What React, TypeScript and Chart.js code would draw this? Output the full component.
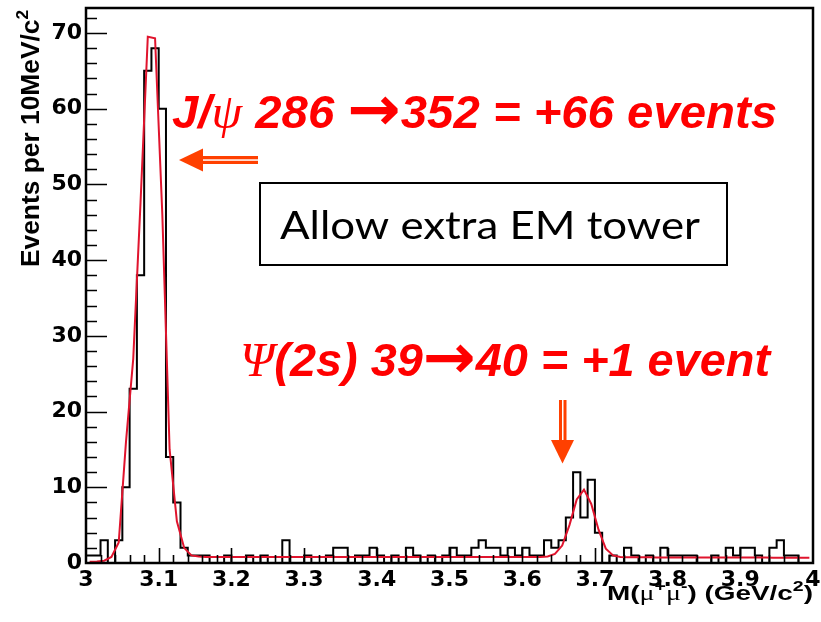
import React, { useEffect, useRef } from "react";
import { Chart, registerables } from "chart.js";

Chart.register(...registerables);

// ---- data ----
const MASS_MIN = 3.0;
const MASS_MAX = 4.0;
const BIN_WIDTH = 0.01;
const Y_MAX = 73.3;

// events per 10 MeV/c^2 bin, bins 3.00-3.01 ... 3.99-4.00
const eventCounts = [
  1, 1, 3, 0, 3, 10, 23, 38, 65, 68,
  60, 14, 8, 2, 1, 1, 1, 0, 0, 1,
  0, 0, 1, 0, 1, 0, 0, 3, 0, 0,
  1, 0, 0, 1, 2, 2, 0, 1, 1, 2,
  1, 0, 1, 0, 2, 1, 0, 1, 0, 1,
  2, 1, 1, 2, 3, 2, 2, 1, 2, 1,
  2, 1, 1, 3, 2, 3, 6, 12, 6, 11,
  4, 0, 1, 0, 2, 1, 0, 1, 0, 2,
  1, 1, 1, 1, 0, 0, 1, 0, 2, 1,
  2, 2, 1, 0, 2, 3, 1, 1, 0, 0,
];

// fit curve read at the bin centres
const fitCurve = [
  0.15, 0.2, 0.3, 0.8, 2.7, 16, 27, 47.6, 69.5, 69.3,
  46, 15, 5.5, 2, 1.0, 0.85, 0.8, 0.8, 0.8, 0.8,
  0.8, 0.8, 0.8, 0.8, 0.8, 0.8, 0.8, 0.8, 0.8, 0.8,
  0.8, 0.8, 0.8, 0.8, 0.8, 0.8, 0.8, 0.8, 0.8, 0.8,
  0.79, 0.79, 0.79, 0.79, 0.79, 0.79, 0.79, 0.79, 0.79, 0.79,
  0.78, 0.78, 0.78, 0.78, 0.78, 0.78, 0.78, 0.78, 0.78, 0.78,
  0.78, 0.78, 0.8, 0.85, 1.2, 2.3, 5.0, 8.4, 9.7, 7.8,
  4.4, 1.9, 1.0, 0.8, 0.76, 0.75, 0.75, 0.75, 0.74, 0.74,
  0.74, 0.73, 0.73, 0.73, 0.73, 0.72, 0.72, 0.72, 0.72, 0.72,
  0.71, 0.71, 0.71, 0.71, 0.7, 0.7, 0.7, 0.7, 0.7, 0.7,
];

const yTitle = "Events per 10MeV/c";
const xTitle = ["M(", "μ", "+", "μ", "-", ") (GeV/c", "2", ")"];
const jpsiNote = ["J/", "ψ", " 286 ", "→", "352 = +66 events"];
const psiNote = ["Ψ", "(2s) 39", "→", "40 = +1 event"];
const boxNote = "Allow extra EM tower";

const RED_TEXT = "#ff0000";
const ARROW = "#ff4000";
const FIT_RED = "#e0142d";

type Seg = { text: string; font: string; dy?: number };

function drawRich(ctx: CanvasRenderingContext2D, segs: Seg[], x: number, y: number, target: number, color: string) {
  const widths = segs.map((s) => {
    ctx.font = s.font;
    return ctx.measureText(s.text).width;
  });
  const total = widths.reduce((a, b) => a + b, 0);
  const sx = target / total;
  ctx.save();
  ctx.translate(x, y);
  ctx.scale(sx, 1);
  ctx.fillStyle = color;
  ctx.textBaseline = "alphabetic";
  ctx.textAlign = "left";
  let cx = 0;
  segs.forEach((s, i) => {
    ctx.font = s.font;
    ctx.fillText(s.text, cx, s.dy || 0);
    cx += widths[i];
  });
  ctx.restore();
}

function fmtMass(v: number) {
  const r = Math.round(v * 10) / 10;
  return Number.isInteger(r) ? String(r) : r.toFixed(1);
}

const decorations = {
  id: "decorations",
  afterDraw(chart: any) {
    const { ctx, chartArea: a, scales } = chart;
    const xs = scales.x;
    const ys = scales.y;
    ctx.save();
    // ticks inside the frame
    ctx.strokeStyle = "#000";
    ctx.lineWidth = 1.6;
    ctx.beginPath();
    for (let k = 1; 2 * k <= Y_MAX; k++) {
      const v = 2 * k;
      const py = Math.round(ys.getPixelForValue(v)) + 0.5;
      const len = v % 10 === 0 ? 21 : 11;
      ctx.moveTo(a.left, py);
      ctx.lineTo(a.left + len, py);
    }
    for (let k = 1; k < 50; k++) {
      const px = Math.round(xs.getPixelForValue(MASS_MIN + k * 0.02)) + 0.5;
      const len = k % 5 === 0 ? 15 : 8;
      ctx.moveTo(px, a.bottom);
      ctx.lineTo(px, a.bottom - len);
    }
    ctx.stroke();
    // frame
    ctx.lineWidth = 2.5;
    ctx.strokeRect(a.left, a.top, a.right - a.left, a.bottom - a.top);

    // y title (rotated)
    ctx.save();
    ctx.translate(39, 267);
    ctx.rotate(-Math.PI / 2);
    drawRich(
      ctx,
      [
        { text: yTitle, font: "bold 26px 'Liberation Sans'" },
        { text: "2", font: "bold 17px 'Liberation Sans'", dy: -11 },
      ],
      0,
      0,
      257,
      "#000"
    );
    ctx.restore();

    // x title
    drawRich(
      ctx,
      [
        { text: xTitle[0], font: "bold 20px 'Liberation Sans'" },
        { text: xTitle[1], font: "20px 'Liberation Serif'" },
        { text: xTitle[2], font: "bold 14px 'Liberation Sans'", dy: -9 },
        { text: xTitle[3], font: "20px 'Liberation Serif'" },
        { text: xTitle[4], font: "bold 14px 'Liberation Sans'", dy: -9 },
        { text: xTitle[5], font: "bold 20px 'Liberation Sans'" },
        { text: xTitle[6], font: "bold 14px 'Liberation Sans'", dy: -9 },
        { text: xTitle[7], font: "bold 20px 'Liberation Sans'" },
      ],
      607,
      600,
      206,
      "#000"
    );

    // red notes
    const bi = "italic bold 46px 'Liberation Sans'";
    const arrowFont = "bold 62px 'DejaVu Sans'";
    drawRich(
      ctx,
      [
        { text: jpsiNote[0], font: bi },
        { text: jpsiNote[1], font: "italic 48px 'Liberation Serif'" },
        { text: jpsiNote[2], font: bi },
        { text: jpsiNote[3], font: arrowFont, dy: 2 },
        { text: jpsiNote[4], font: bi },
      ],
      172,
      128,
      605,
      RED_TEXT
    );
    drawRich(
      ctx,
      [
        { text: psiNote[0], font: "italic 48px 'Liberation Serif'" },
        { text: psiNote[1], font: bi },
        { text: psiNote[2], font: arrowFont, dy: 2 },
        { text: psiNote[3], font: bi },
      ],
      240,
      376,
      530,
      RED_TEXT
    );

    // boxed note
    ctx.fillStyle = "#fff";
    ctx.fillRect(260, 183, 467, 82);
    ctx.strokeStyle = "#000";
    ctx.lineWidth = 2;
    ctx.strokeRect(260, 183, 467, 82);
    drawRich(ctx, [{ text: boxNote, font: "38px Lato" }], 280, 239, 420, "#000");

    // arrows
    ctx.fillStyle = ARROW;
    ctx.beginPath();
    ctx.moveTo(179, 160);
    ctx.lineTo(203, 148.5);
    ctx.lineTo(203, 171.5);
    ctx.closePath();
    ctx.fill();
    ctx.fillRect(202, 156, 56, 8);
    ctx.beginPath();
    ctx.moveTo(562.5, 463.5);
    ctx.lineTo(551, 440);
    ctx.lineTo(574, 440);
    ctx.closePath();
    ctx.fill();
    ctx.fillRect(559, 400, 7.5, 41);
    ctx.fillStyle = "#fff";
    ctx.fillRect(203, 159.3, 55, 1.5);
    ctx.fillRect(562, 400, 1.5, 40);
    ctx.restore();
  },
};

export default function App() {
  const ref = useRef<HTMLCanvasElement | null>(null);
  useEffect(() => {
    if (!ref.current) return;
    const histData = eventCounts.map((v, i) => ({ x: MASS_MIN + BIN_WIDTH * i, y: v }));
    histData.push({ x: MASS_MAX, y: eventCounts[eventCounts.length - 1] });
    const fitData = fitCurve.map((v, i) => ({ x: MASS_MIN + BIN_WIDTH * (i + 0.5), y: v }));
    const tickFont = { family: "'DejaVu Sans'", weight: "bold" as const, size: 22 };
    const chart = new Chart(ref.current, {
      type: "line",
      data: {
        datasets: [
          {
            data: fitData,
            borderColor: FIT_RED,
            borderWidth: 2,
            pointRadius: 0,
            tension: 0,
            fill: false,
          },
          {
            data: histData,
            borderColor: "#000",
            borderWidth: 2,
            pointRadius: 0,
            stepped: "before",
            fill: false,
          },
        ],
      },
      options: {
        responsive: false,
        devicePixelRatio: 1,
        animation: false,
        events: [],
        layout: { padding: { top: 8, right: 8, left: 0, bottom: 0 } },
        plugins: { legend: { display: false }, tooltip: { enabled: false } },
        scales: {
          x: {
            type: "linear",
            min: MASS_MIN,
            max: MASS_MAX,
            grid: { display: false, drawTicks: false },
            border: { display: false },
            ticks: {
              stepSize: 0.1,
              autoSkip: false,
              maxRotation: 0,
              padding: 4,
              color: "#000",
              font: tickFont,
              callback: (v: any) => fmtMass(Number(v)),
            },
            afterFit: (s: any) => {
              s.height = 59;
              s.paddingLeft = 0;
              s.paddingRight = 0;
            },
          },
          y: {
            type: "linear",
            min: 0,
            max: Y_MAX,
            grid: { display: false, drawTicks: false },
            border: { display: false },
            ticks: {
              stepSize: 10,
              includeBounds: false,
              padding: 4,
              color: "#000",
              font: tickFont,
              callback: (v: any) => (Number(v) % 10 === 0 ? String(v) : ""),
            },
            afterFit: (s: any) => {
              s.width = 86;
              s.paddingTop = 0;
              s.paddingBottom = 0;
            },
          },
        },
      },
      plugins: [decorations],
    });
    return () => chart.destroy();
  }, []);
  return (
    <div style={{ position: "fixed", left: 0, top: 0, width: 821, height: 622, background: "#fff" }}>
      <canvas ref={ref} width={821} height={622} />
    </div>
  );
}
